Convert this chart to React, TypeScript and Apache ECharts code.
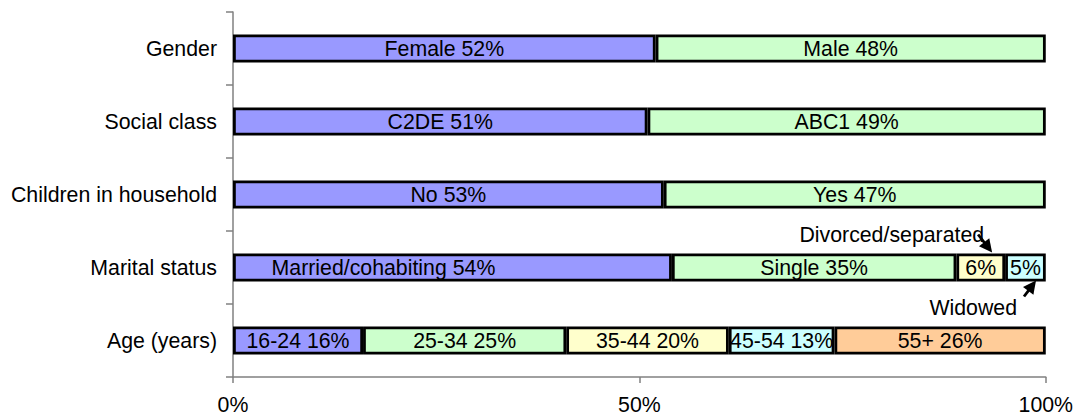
import React, { useEffect, useRef } from "react";
import * as echarts from "echarts";

const categories = ["Age (years)", "Marital status", "Children in household", "Social class", "Gender"];

const seg1Names = ["16-24", "Married/cohabiting", "No", "C2DE", "Female"];
const seg1Values = [16, 54, 53, 51, 52];
const seg2Names = ["25-34", "Single", "Yes", "ABC1", "Male"];
const seg2Values = [25, 35, 47, 49, 48];
const seg3Names = ["35-44", "", "", "", ""];
const seg3Values: (number | null)[] = [20, 6, null, null, null];
const seg4Names = ["45-54", "", "", "", ""];
const seg4Values: (number | null)[] = [13, 5, null, null, null];
const seg5Names = ["55+", "", "", "", ""];
const seg5Values: (number | null)[] = [26, null, null, null, null];

const xTicks = [0, 50, 100];
const annotDivorced = "Divorced/separated";
const annotWidowed = "Widowed";

const colors = ["#9999FF", "#CCFFCC", "#FFFFCC", "#CCFFFF", "#FFCC99"];
const FONT = "'Liberation Sans', Arial, sans-serif";
const FS = 21.3;

function arrow(tail: number[], tip: number[]) {
  const dx = tip[0] - tail[0];
  const dy = tip[1] - tail[1];
  const len = Math.sqrt(dx * dx + dy * dy);
  const ux = dx / len, uy = dy / len;
  const hl = 13, hw = 6.5;
  const bx = tip[0] - ux * hl, by = tip[1] - uy * hl;
  return [
    {
      type: "line",
      shape: { x1: tail[0], y1: tail[1], x2: bx + ux * 2, y2: by + uy * 2 },
      style: { stroke: "#000", lineWidth: 2.8 },
    },
    {
      type: "polygon",
      shape: {
        points: [
          [tip[0], tip[1]],
          [bx - uy * hw, by + ux * hw],
          [bx + uy * hw, by - ux * hw],
        ],
      },
      style: { fill: "#000" },
    },
  ];
}

export default function App() {
  const ref = useRef<HTMLDivElement>(null);
  useEffect(() => {
    const chart = echarts.init(ref.current!, null, { renderer: "svg" });
    const segs = [
      [seg1Names, seg1Values],
      [seg2Names, seg2Values],
      [seg3Names, seg3Values],
      [seg4Names, seg4Values],
      [seg5Names, seg5Values],
    ] as [string[], (number | null)[]][];
    const series = segs.map(([names, vals], si) => ({
      type: "bar",
      stack: "total",
      barWidth: 28,
      itemStyle: { color: colors[si], borderColor: "#000", borderWidth: 2.8 },
      label: {
        show: true,
        position: "inside",
        color: "#000",
        fontFamily: FONT,
        fontSize: FS,
        formatter: (p: any) => (names[p.dataIndex] ? names[p.dataIndex] + " " : "") + p.value + "%",
      },
      data: vals.map((v, i) => {
        if (v == null) return null;
        if (si === 0 && i === 1) return { value: v, label: { offset: [-69, 0] } };
        return v;
      }),
    }));
    chart.setOption({
      animation: false,
      grid: { left: 233, right: 28, top: 12, bottom: 39, containLabel: false },
      xAxis: {
        type: "value",
        min: xTicks[0],
        max: xTicks[xTicks.length - 1],
        interval: 50,
        splitLine: { show: false },
        axisLine: { show: true, lineStyle: { color: "#808080", width: 1.5 } },
        axisTick: { show: true, length: 6, lineStyle: { color: "#808080", width: 1.5 } },
        axisLabel: { formatter: "{value}%", color: "#000", fontFamily: FONT, fontSize: FS, margin: 17 },
      },
      yAxis: {
        type: "category",
        data: categories,
        axisLine: { show: true, lineStyle: { color: "#808080", width: 1.5 } },
        axisTick: { show: true, length: 7, lineStyle: { color: "#808080", width: 1.5 } },
        axisLabel: { color: "#000", fontFamily: FONT, fontSize: FS, margin: 16 },
      },
      series,
    });

    const mi = 1;
    const yMar = chart.convertToPixel({ gridIndex: 0 }, [0, categories[mi]])[1];
    const divEnd = (seg1Values[mi] as number) + (seg2Values[mi] as number) + (seg3Values[mi] as number);
    const widEnd = divEnd + (seg4Values[mi] as number);
    const px = (v: number) => chart.convertToPixel({ gridIndex: 0 }, [v, categories[mi]])[0];
    const barTop = yMar - 15;
    const barBot = yMar + 15;
    const tipDiv = [px(divEnd - 1.6), barTop];
    const tailDiv = [tipDiv[0] - 14, barTop - 18];
    const tipWid = [px(widEnd - 1.2), barBot - 2];
    const tailWid = [tipWid[0] - 12, barBot + 14];

    chart.setOption({
      graphic: [
        {
          type: "text",
          x: tipDiv[0] - 8,
          y: barTop - 18,
          style: { text: annotDivorced, font: `${FS}px ${FONT}`, fill: "#000", align: "right", verticalAlign: "middle" },
        },
        {
          type: "text",
          x: tipWid[0] - 19,
          y: barBot + 25,
          style: { text: annotWidowed, font: `${FS}px ${FONT}`, fill: "#000", align: "right", verticalAlign: "middle" },
        },
        ...arrow(tailDiv, tipDiv),
        ...arrow(tailWid, tipWid),
      ],
    });
    return () => chart.dispose();
  }, []);
  return (
    <div
      ref={ref}
      style={{ position: "fixed", left: 0, top: 0, width: 1076, height: 416, background: "#fff" }}
    />
  );
}
